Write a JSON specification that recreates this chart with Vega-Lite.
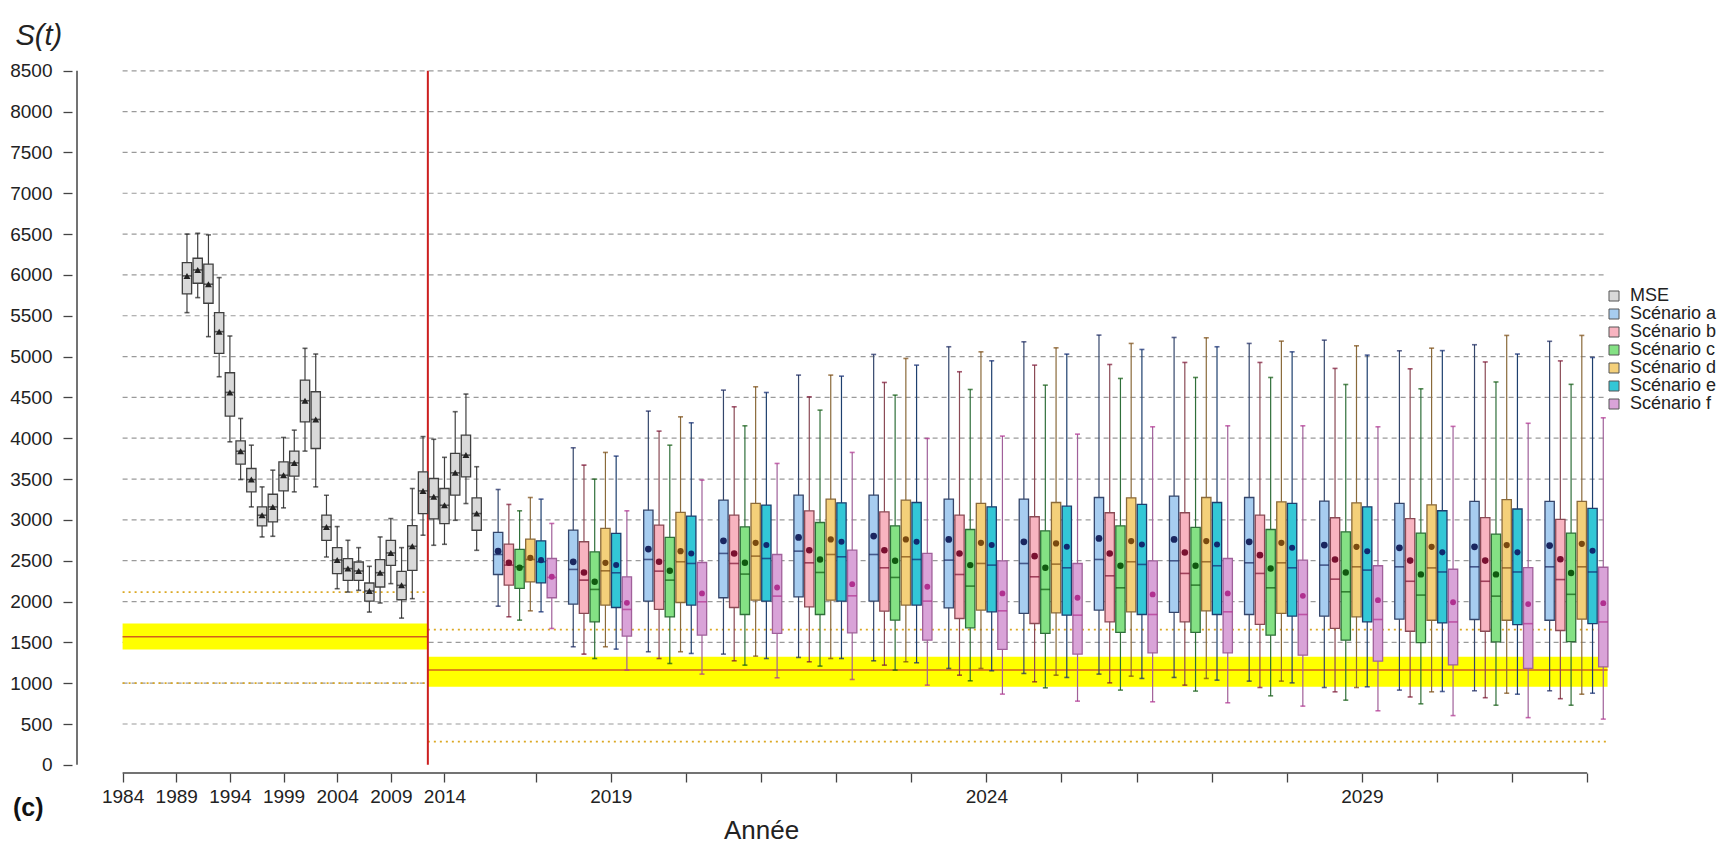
{
  "$schema": "https://vega.github.io/schema/vega-lite/v6.json",
  "width": 1547,
  "height": 713,
  "autosize": {"type": "none"},
  "padding": {"left": 72, "top": 60, "right": 115, "bottom": 72},
  "background": "white",
  "config": {
    "view": {"stroke": null},
    "axis": {
      "labelFont": "Liberation Sans Narrow, Liberation Sans",
      "labelFontSize": 19,
      "labelColor": "#222222",
      "tickColor": "#444444",
      "tickWidth": 1.3,
      "tickSize": 9,
      "domain": false,
      "grid": false,
      "titleColor": "#222222",
      "titleFontWeight": "normal"
    }
  },
  "title": {
    "text": "(c)",
    "orient": "bottom",
    "anchor": "start",
    "frame": "group",
    "dx": -59,
    "offset": -27,
    "baseline": "alphabetic",
    "font": "Liberation Sans",
    "fontSize": 25,
    "fontWeight": "bold",
    "color": "#111111"
  },
  "datasets": {
    "grid": [
      {"v": 500}, {"v": 1000}, {"v": 1500}, {"v": 2000}, {"v": 2500}, {"v": 3000},
      {"v": 3500}, {"v": 4000}, {"v": 4500}, {"v": 5000}, {"v": 5500}, {"v": 6000},
      {"v": 6500}, {"v": 7000}, {"v": 7500}, {"v": 8000}, {"v": 8500}
    ],
    "refs": [
      {"periode": "historique", "from": 0, "to": 28.45, "band_lo": 1413, "band_hi": 1732, "ref": 1568, "lim_hi": 2115, "lim_lo": 1000},
      {"periode": "projection", "from": 28.45, "to": 138.4, "band_lo": 955, "band_hi": 1323, "ref": 1160, "lim_hi": 1655, "lim_lo": 285}
    ],
    "box": [
      {"s": "MSE", "an": 1990, "k": 6, "lo": 5538, "q1": 5767, "md": 5988, "mn": 5988, "q3": 6151, "hi": 6500},
      {"s": "MSE", "an": 1991, "k": 7, "lo": 5722, "q1": 5898, "md": 6061, "mn": 6061, "q3": 6204, "hi": 6510},
      {"s": "MSE", "an": 1992, "k": 8, "lo": 5244, "q1": 5653, "md": 5886, "mn": 5886, "q3": 6131, "hi": 6490},
      {"s": "MSE", "an": 1993, "k": 9, "lo": 4753, "q1": 5039, "md": 5305, "mn": 5305, "q3": 5538, "hi": 5967},
      {"s": "MSE", "an": 1994, "k": 10, "lo": 3956, "q1": 4271, "md": 4561, "mn": 4561, "q3": 4802, "hi": 5252},
      {"s": "MSE", "an": 1995, "k": 11, "lo": 3494, "q1": 3682, "md": 3841, "mn": 3841, "q3": 3968, "hi": 4242},
      {"s": "MSE", "an": 1996, "k": 12, "lo": 3159, "q1": 3343, "md": 3494, "mn": 3494, "q3": 3629, "hi": 3915},
      {"s": "MSE", "an": 1997, "k": 13, "lo": 2791, "q1": 2926, "md": 3057, "mn": 3057, "q3": 3159, "hi": 3404},
      {"s": "MSE", "an": 1998, "k": 14, "lo": 2799, "q1": 2975, "md": 3159, "mn": 3159, "q3": 3314, "hi": 3609},
      {"s": "MSE", "an": 1999, "k": 15, "lo": 3147, "q1": 3355, "md": 3547, "mn": 3547, "q3": 3711, "hi": 4009},
      {"s": "MSE", "an": 2000, "k": 16, "lo": 3343, "q1": 3535, "md": 3698, "mn": 3698, "q3": 3842, "hi": 4099},
      {"s": "MSE", "an": 2001, "k": 17, "lo": 3842, "q1": 4201, "md": 4459, "mn": 4459, "q3": 4712, "hi": 5101},
      {"s": "MSE", "an": 2002, "k": 18, "lo": 3404, "q1": 3874, "md": 4230, "mn": 4230, "q3": 4569, "hi": 5031},
      {"s": "MSE", "an": 2003, "k": 19, "lo": 2546, "q1": 2750, "md": 2914, "mn": 2914, "q3": 3057, "hi": 3302},
      {"s": "MSE", "an": 2004, "k": 20, "lo": 2157, "q1": 2341, "md": 2509, "mn": 2509, "q3": 2660, "hi": 2918},
      {"s": "MSE", "an": 2005, "k": 21, "lo": 2116, "q1": 2260, "md": 2403, "mn": 2403, "q3": 2525, "hi": 2750},
      {"s": "MSE", "an": 2006, "k": 22, "lo": 2137, "q1": 2260, "md": 2374, "mn": 2374, "q3": 2484, "hi": 2660},
      {"s": "MSE", "an": 2007, "k": 23, "lo": 1871, "q1": 2006, "md": 2129, "mn": 2129, "q3": 2227, "hi": 2431},
      {"s": "MSE", "an": 2008, "k": 24, "lo": 1982, "q1": 2178, "md": 2353, "mn": 2353, "q3": 2513, "hi": 2791},
      {"s": "MSE", "an": 2009, "k": 25, "lo": 2219, "q1": 2443, "md": 2595, "mn": 2595, "q3": 2750, "hi": 3016},
      {"s": "MSE", "an": 2010, "k": 26, "lo": 1797, "q1": 2022, "md": 2198, "mn": 2198, "q3": 2370, "hi": 2660},
      {"s": "MSE", "an": 2011, "k": 27, "lo": 2035, "q1": 2382, "md": 2676, "mn": 2676, "q3": 2930, "hi": 3384},
      {"s": "MSE", "an": 2012, "k": 28, "lo": 2812, "q1": 3077, "md": 3355, "mn": 3355, "q3": 3589, "hi": 4020},
      {"s": "MSE", "an": 2013, "k": 29, "lo": 2689, "q1": 3012, "md": 3282, "mn": 3282, "q3": 3507, "hi": 3987},
      {"s": "MSE", "an": 2014, "k": 30, "lo": 2701, "q1": 2954, "md": 3179, "mn": 3179, "q3": 3384, "hi": 3766},
      {"s": "MSE", "an": 2015, "k": 31, "lo": 2995, "q1": 3302, "md": 3576, "mn": 3576, "q3": 3815, "hi": 4325},
      {"s": "MSE", "an": 2016, "k": 32, "lo": 3200, "q1": 3527, "md": 3793, "mn": 3793, "q3": 4038, "hi": 4541},
      {"s": "MSE", "an": 2017, "k": 33, "lo": 2627, "q1": 2873, "md": 3077, "mn": 3077, "q3": 3270, "hi": 3651},

      {"s": "Scénario a", "an": 2018, "k": 35, "lo": 1943, "q1": 2331, "md": 2576, "mn": 2617, "q3": 2846, "hi": 3372},
      {"s": "Scénario b", "an": 2018, "k": 36, "lo": 1813, "q1": 2201, "md": 2446, "mn": 2474, "q3": 2703, "hi": 3189},
      {"s": "Scénario c", "an": 2018, "k": 37, "lo": 1772, "q1": 2160, "md": 2425, "mn": 2413, "q3": 2638, "hi": 3111},
      {"s": "Scénario d", "an": 2018, "k": 38, "lo": 1886, "q1": 2241, "md": 2515, "mn": 2535, "q3": 2764, "hi": 3274},
      {"s": "Scénario e", "an": 2018, "k": 39, "lo": 1874, "q1": 2229, "md": 2487, "mn": 2507, "q3": 2744, "hi": 3254},
      {"s": "Scénario f", "an": 2018, "k": 40, "lo": 1670, "q1": 2046, "md": 2295, "mn": 2303, "q3": 2527, "hi": 2956},

      {"s": "Scénario a", "an": 2019, "k": 42, "lo": 1446, "q1": 1968, "md": 2393, "mn": 2487, "q3": 2874, "hi": 3883},
      {"s": "Scénario b", "an": 2019, "k": 43, "lo": 1356, "q1": 1854, "md": 2262, "mn": 2356, "q3": 2732, "hi": 3670},
      {"s": "Scénario c", "an": 2019, "k": 44, "lo": 1302, "q1": 1752, "md": 2148, "mn": 2242, "q3": 2609, "hi": 3499},
      {"s": "Scénario d", "an": 2019, "k": 45, "lo": 1446, "q1": 1956, "md": 2376, "mn": 2474, "q3": 2895, "hi": 3826},
      {"s": "Scénario e", "an": 2019, "k": 46, "lo": 1417, "q1": 1927, "md": 2352, "mn": 2446, "q3": 2834, "hi": 3781},
      {"s": "Scénario f", "an": 2019, "k": 47, "lo": 1160, "q1": 1576, "md": 1903, "mn": 1984, "q3": 2303, "hi": 3111},

      {"s": "Scénario a", "an": 2020, "k": 49, "lo": 1385, "q1": 2005, "md": 2515, "mn": 2642, "q3": 3119, "hi": 4332},
      {"s": "Scénario b", "an": 2020, "k": 50, "lo": 1302, "q1": 1903, "md": 2372, "mn": 2487, "q3": 2936, "hi": 4087},
      {"s": "Scénario c", "an": 2020, "k": 51, "lo": 1241, "q1": 1813, "md": 2262, "mn": 2376, "q3": 2785, "hi": 3915},
      {"s": "Scénario d", "an": 2020, "k": 52, "lo": 1385, "q1": 1988, "md": 2487, "mn": 2617, "q3": 3091, "hi": 4262},
      {"s": "Scénario e", "an": 2020, "k": 53, "lo": 1364, "q1": 1956, "md": 2466, "mn": 2589, "q3": 3046, "hi": 4189},
      {"s": "Scénario f", "an": 2020, "k": 54, "lo": 1111, "q1": 1588, "md": 1997, "mn": 2099, "q3": 2478, "hi": 3487},

      {"s": "Scénario a", "an": 2021, "k": 56, "lo": 1356, "q1": 2046, "md": 2589, "mn": 2744, "q3": 3242, "hi": 4589},
      {"s": "Scénario b", "an": 2021, "k": 57, "lo": 1274, "q1": 1927, "md": 2466, "mn": 2589, "q3": 3058, "hi": 4385},
      {"s": "Scénario c", "an": 2021, "k": 58, "lo": 1221, "q1": 1841, "md": 2336, "mn": 2474, "q3": 2915, "hi": 4152},
      {"s": "Scénario d", "an": 2021, "k": 59, "lo": 1331, "q1": 2017, "md": 2556, "mn": 2719, "q3": 3201, "hi": 4630},
      {"s": "Scénario e", "an": 2021, "k": 60, "lo": 1302, "q1": 2005, "md": 2527, "mn": 2691, "q3": 3181, "hi": 4560},
      {"s": "Scénario f", "an": 2021, "k": 61, "lo": 1066, "q1": 1609, "md": 2066, "mn": 2172, "q3": 2576, "hi": 3691},

      {"s": "Scénario a", "an": 2022, "k": 63, "lo": 1315, "q1": 2058, "md": 2617, "mn": 2785, "q3": 3303, "hi": 4773},
      {"s": "Scénario b", "an": 2022, "k": 64, "lo": 1262, "q1": 1935, "md": 2474, "mn": 2629, "q3": 3111, "hi": 4507},
      {"s": "Scénario c", "an": 2022, "k": 65, "lo": 1209, "q1": 1841, "md": 2356, "mn": 2515, "q3": 2968, "hi": 4344},
      {"s": "Scénario d", "an": 2022, "k": 66, "lo": 1302, "q1": 2017, "md": 2576, "mn": 2760, "q3": 3254, "hi": 4773},
      {"s": "Scénario e", "an": 2022, "k": 67, "lo": 1302, "q1": 2005, "md": 2548, "mn": 2731, "q3": 3209, "hi": 4760},
      {"s": "Scénario f", "an": 2022, "k": 68, "lo": 1045, "q1": 1617, "md": 2070, "mn": 2213, "q3": 2629, "hi": 3826},

      {"s": "Scénario a", "an": 2023, "k": 70, "lo": 1274, "q1": 2005, "md": 2576, "mn": 2801, "q3": 3303, "hi": 5026},
      {"s": "Scénario b", "an": 2023, "k": 71, "lo": 1221, "q1": 1882, "md": 2413, "mn": 2629, "q3": 3099, "hi": 4683},
      {"s": "Scénario c", "an": 2023, "k": 72, "lo": 1160, "q1": 1772, "md": 2295, "mn": 2499, "q3": 2927, "hi": 4528},
      {"s": "Scénario d", "an": 2023, "k": 73, "lo": 1262, "q1": 1956, "md": 2548, "mn": 2760, "q3": 3242, "hi": 4977},
      {"s": "Scénario e", "an": 2023, "k": 74, "lo": 1250, "q1": 1956, "md": 2515, "mn": 2731, "q3": 3213, "hi": 4895},
      {"s": "Scénario f", "an": 2023, "k": 75, "lo": 976, "q1": 1527, "md": 2005, "mn": 2181, "q3": 2589, "hi": 3997},

      {"s": "Scénario a", "an": 2024, "k": 77, "lo": 1180, "q1": 1923, "md": 2507, "mn": 2760, "q3": 3254, "hi": 5120},
      {"s": "Scénario b", "an": 2024, "k": 78, "lo": 1098, "q1": 1792, "md": 2331, "mn": 2589, "q3": 3058, "hi": 4814},
      {"s": "Scénario c", "an": 2024, "k": 79, "lo": 1029, "q1": 1678, "md": 2189, "mn": 2446, "q3": 2882, "hi": 4597},
      {"s": "Scénario d", "an": 2024, "k": 80, "lo": 1180, "q1": 1895, "md": 2466, "mn": 2719, "q3": 3201, "hi": 5058},
      {"s": "Scénario e", "an": 2024, "k": 81, "lo": 1152, "q1": 1874, "md": 2446, "mn": 2691, "q3": 3160, "hi": 4948},
      {"s": "Scénario f", "an": 2024, "k": 82, "lo": 866, "q1": 1413, "md": 1886, "mn": 2099, "q3": 2499, "hi": 4026},

      {"s": "Scénario a", "an": 2025, "k": 84, "lo": 1119, "q1": 1854, "md": 2466, "mn": 2731, "q3": 3254, "hi": 5181},
      {"s": "Scénario b", "an": 2025, "k": 85, "lo": 1017, "q1": 1731, "md": 2303, "mn": 2556, "q3": 3038, "hi": 4895},
      {"s": "Scénario c", "an": 2025, "k": 86, "lo": 943, "q1": 1609, "md": 2148, "mn": 2413, "q3": 2866, "hi": 4650},
      {"s": "Scénario d", "an": 2025, "k": 87, "lo": 1098, "q1": 1862, "md": 2458, "mn": 2711, "q3": 3213, "hi": 5107},
      {"s": "Scénario e", "an": 2025, "k": 88, "lo": 1070, "q1": 1833, "md": 2413, "mn": 2670, "q3": 3168, "hi": 5030},
      {"s": "Scénario f", "an": 2025, "k": 89, "lo": 780, "q1": 1356, "md": 1833, "mn": 2046, "q3": 2466, "hi": 4050},

      {"s": "Scénario a", "an": 2026, "k": 91, "lo": 1111, "q1": 1895, "md": 2515, "mn": 2772, "q3": 3274, "hi": 5263},
      {"s": "Scénario b", "an": 2026, "k": 92, "lo": 1004, "q1": 1752, "md": 2315, "mn": 2589, "q3": 3087, "hi": 4903},
      {"s": "Scénario c", "an": 2026, "k": 93, "lo": 915, "q1": 1621, "md": 2168, "mn": 2438, "q3": 2927, "hi": 4732},
      {"s": "Scénario d", "an": 2026, "k": 94, "lo": 1086, "q1": 1874, "md": 2487, "mn": 2740, "q3": 3270, "hi": 5161},
      {"s": "Scénario e", "an": 2026, "k": 95, "lo": 1058, "q1": 1841, "md": 2454, "mn": 2699, "q3": 3189, "hi": 5087},
      {"s": "Scénario f", "an": 2026, "k": 96, "lo": 772, "q1": 1372, "md": 1841, "mn": 2087, "q3": 2499, "hi": 4140},

      {"s": "Scénario a", "an": 2027, "k": 98, "lo": 1070, "q1": 1866, "md": 2499, "mn": 2760, "q3": 3291, "hi": 5234},
      {"s": "Scénario b", "an": 2027, "k": 99, "lo": 976, "q1": 1752, "md": 2344, "mn": 2601, "q3": 3087, "hi": 4928},
      {"s": "Scénario c", "an": 2027, "k": 100, "lo": 903, "q1": 1621, "md": 2201, "mn": 2438, "q3": 2907, "hi": 4744},
      {"s": "Scénario d", "an": 2027, "k": 101, "lo": 1058, "q1": 1886, "md": 2487, "mn": 2740, "q3": 3274, "hi": 5230},
      {"s": "Scénario e", "an": 2027, "k": 102, "lo": 1037, "q1": 1841, "md": 2438, "mn": 2699, "q3": 3213, "hi": 5120},
      {"s": "Scénario f", "an": 2027, "k": 103, "lo": 760, "q1": 1372, "md": 1874, "mn": 2099, "q3": 2527, "hi": 4152},

      {"s": "Scénario a", "an": 2028, "k": 105, "lo": 1025, "q1": 1841, "md": 2474, "mn": 2731, "q3": 3274, "hi": 5161},
      {"s": "Scénario b", "an": 2028, "k": 106, "lo": 947, "q1": 1719, "md": 2344, "mn": 2568, "q3": 3058, "hi": 4928},
      {"s": "Scénario c", "an": 2028, "k": 107, "lo": 845, "q1": 1588, "md": 2168, "mn": 2405, "q3": 2882, "hi": 4744},
      {"s": "Scénario d", "an": 2028, "k": 108, "lo": 1025, "q1": 1854, "md": 2474, "mn": 2719, "q3": 3221, "hi": 5189},
      {"s": "Scénario e", "an": 2028, "k": 109, "lo": 1004, "q1": 1821, "md": 2413, "mn": 2658, "q3": 3201, "hi": 5058},
      {"s": "Scénario f", "an": 2028, "k": 110, "lo": 719, "q1": 1343, "md": 1841, "mn": 2070, "q3": 2507, "hi": 4152},

      {"s": "Scénario a", "an": 2029, "k": 112, "lo": 947, "q1": 1821, "md": 2446, "mn": 2691, "q3": 3230, "hi": 5201},
      {"s": "Scénario b", "an": 2029, "k": 113, "lo": 894, "q1": 1670, "md": 2274, "mn": 2515, "q3": 3026, "hi": 4855},
      {"s": "Scénario c", "an": 2029, "k": 114, "lo": 792, "q1": 1527, "md": 2119, "mn": 2356, "q3": 2854, "hi": 4658},
      {"s": "Scénario d", "an": 2029, "k": 115, "lo": 947, "q1": 1813, "md": 2425, "mn": 2670, "q3": 3209, "hi": 5132},
      {"s": "Scénario e", "an": 2029, "k": 116, "lo": 956, "q1": 1752, "md": 2385, "mn": 2617, "q3": 3160, "hi": 5018},
      {"s": "Scénario f", "an": 2029, "k": 117, "lo": 662, "q1": 1270, "md": 1780, "mn": 2017, "q3": 2438, "hi": 4140},

      {"s": "Scénario a", "an": 2030, "k": 119, "lo": 915, "q1": 1784, "md": 2425, "mn": 2658, "q3": 3201, "hi": 5071},
      {"s": "Scénario b", "an": 2030, "k": 120, "lo": 831, "q1": 1636, "md": 2248, "mn": 2501, "q3": 3015, "hi": 4850},
      {"s": "Scénario c", "an": 2030, "k": 121, "lo": 747, "q1": 1497, "md": 2079, "mn": 2332, "q3": 2838, "hi": 4605},
      {"s": "Scénario d", "an": 2030, "k": 122, "lo": 894, "q1": 1771, "md": 2412, "mn": 2670, "q3": 3184, "hi": 5103},
      {"s": "Scénario e", "an": 2030, "k": 123, "lo": 898, "q1": 1738, "md": 2362, "mn": 2602, "q3": 3112, "hi": 5073},
      {"s": "Scénario f", "an": 2030, "k": 124, "lo": 603, "q1": 1223, "md": 1750, "mn": 1991, "q3": 2395, "hi": 4145},

      {"s": "Scénario a", "an": 2031, "k": 126, "lo": 907, "q1": 1780, "md": 2425, "mn": 2670, "q3": 3226, "hi": 5145},
      {"s": "Scénario b", "an": 2031, "k": 127, "lo": 822, "q1": 1636, "md": 2248, "mn": 2501, "q3": 3028, "hi": 4934},
      {"s": "Scénario c", "an": 2031, "k": 128, "lo": 730, "q1": 1506, "md": 2066, "mn": 2332, "q3": 2826, "hi": 4689},
      {"s": "Scénario d", "an": 2031, "k": 129, "lo": 877, "q1": 1771, "md": 2412, "mn": 2691, "q3": 3247, "hi": 5259},
      {"s": "Scénario e", "an": 2031, "k": 130, "lo": 865, "q1": 1716, "md": 2362, "mn": 2602, "q3": 3133, "hi": 5031},
      {"s": "Scénario f", "an": 2031, "k": 131, "lo": 578, "q1": 1181, "md": 1729, "mn": 1969, "q3": 2416, "hi": 4183},

      {"s": "Scénario a", "an": 2032, "k": 133, "lo": 907, "q1": 1771, "md": 2425, "mn": 2686, "q3": 3226, "hi": 5187},
      {"s": "Scénario b", "an": 2032, "k": 134, "lo": 810, "q1": 1645, "md": 2269, "mn": 2518, "q3": 3007, "hi": 4947},
      {"s": "Scénario c", "an": 2032, "k": 135, "lo": 730, "q1": 1510, "md": 2088, "mn": 2349, "q3": 2838, "hi": 4660},
      {"s": "Scénario d", "an": 2032, "k": 136, "lo": 865, "q1": 1784, "md": 2425, "mn": 2707, "q3": 3226, "hi": 5259},
      {"s": "Scénario e", "an": 2032, "k": 137, "lo": 877, "q1": 1729, "md": 2362, "mn": 2623, "q3": 3142, "hi": 4989},
      {"s": "Scénario f", "an": 2032, "k": 138, "lo": 560, "q1": 1200, "md": 1750, "mn": 1980, "q3": 2420, "hi": 4250}
    ]
  },
  "layer": [
    {
      "data": {"name": "grid"},
      "mark": {"type": "rule", "color": "#9a9a9a", "strokeWidth": 1.2, "strokeDash": [5, 4]},
      "encoding": {
        "x": {"datum": 0, "type": "quantitative", "scale": {"domain": [-4.25, 139], "nice": false, "zero": false}},
        "x2": {"datum": 138.4},
        "y": {"field": "v", "type": "quantitative", "scale": {"domain": [-100, 8632], "nice": false, "zero": false}}
      }
    },
    {
      "data": {"name": "refs"},
      "mark": {"type": "rect", "color": "#ffff00"},
      "encoding": {
        "x": {"field": "from", "type": "quantitative", "scale": {"domain": [-4.25, 139], "nice": false, "zero": false}},
        "x2": {"field": "to"},
        "y": {"field": "band_lo", "type": "quantitative", "scale": {"domain": [-100, 8632], "nice": false, "zero": false}},
        "y2": {"field": "band_hi"}
      }
    },
    {
      "data": {"name": "refs"},
      "mark": {"type": "rule", "color": "#d45f1c", "strokeWidth": 1.5},
      "encoding": {
        "x": {"field": "from", "type": "quantitative", "scale": {"domain": [-4.25, 139], "nice": false, "zero": false}},
        "x2": {"field": "to"},
        "y": {"field": "ref", "type": "quantitative", "scale": {"domain": [-100, 8632], "nice": false, "zero": false}}
      }
    },
    {
      "data": {"name": "refs"},
      "mark": {"type": "rule", "color": "#dba824", "strokeWidth": 1.8, "strokeDash": [2, 4]},
      "encoding": {
        "x": {"field": "from", "type": "quantitative", "scale": {"domain": [-4.25, 139], "nice": false, "zero": false}},
        "x2": {"field": "to"},
        "y": {"field": "lim_hi", "type": "quantitative", "scale": {"domain": [-100, 8632], "nice": false, "zero": false}}
      }
    },
    {
      "data": {"name": "refs"},
      "mark": {"type": "rule", "color": "#dba824", "strokeWidth": 1.8, "strokeDash": [2, 4]},
      "encoding": {
        "x": {"field": "from", "type": "quantitative", "scale": {"domain": [-4.25, 139], "nice": false, "zero": false}},
        "x2": {"field": "to"},
        "y": {"field": "lim_lo", "type": "quantitative", "scale": {"domain": [-100, 8632], "nice": false, "zero": false}}
      }
    },
    {
      "data": {"values": [{"separation": "2012/2013"}]},
      "mark": {"type": "rule", "color": "#cc1f1f", "strokeWidth": 2},
      "encoding": {
        "x": {"datum": 28.45, "type": "quantitative", "scale": {"domain": [-4.25, 139], "nice": false, "zero": false}},
        "y": {"datum": 0, "type": "quantitative", "scale": {"domain": [-100, 8632], "nice": false, "zero": false}},
        "y2": {"datum": 8500}
      }
    },
    {
      "data": {"values": [{"axe": "x"}]},
      "mark": {"type": "rule", "color": "#444444", "strokeWidth": 1.5},
      "encoding": {
        "x": {"datum": 0, "type": "quantitative", "scale": {"domain": [-4.25, 139], "nice": false, "zero": false}},
        "x2": {"datum": 136.5},
        "y": {"datum": -100, "type": "quantitative", "scale": {"domain": [-100, 8632], "nice": false, "zero": false}}
      }
    },
    {
      "data": {"values": [{"axe": "y"}]},
      "mark": {"type": "rule", "color": "#444444", "strokeWidth": 1.5},
      "encoding": {
        "x": {"datum": -4.25, "type": "quantitative", "scale": {"domain": [-4.25, 139], "nice": false, "zero": false}},
        "y": {"datum": 0, "type": "quantitative", "scale": {"domain": [-100, 8632], "nice": false, "zero": false}},
        "y2": {"datum": 8500}
      }
    },
    {
      "data": {"name": "box"},
      "mark": {"type": "rule", "strokeWidth": 1.2},
      "encoding": {
        "x": {
          "field": "k", "type": "quantitative",
          "scale": {"domain": [-4.25, 139], "nice": false, "zero": false},
          "axis": {
            "values": [0, 5, 10, 15, 20, 25, 30, 38.5, 45.5, 52.5, 59.5, 66.5, 73.5, 80.5, 87.5, 94.5, 101.5, 108.5, 115.5, 122.5, 129.5, 136.5],
            "labelExpr": "datum.value <= 30 ? '' + (1984 + datum.value) : (datum.value == 45.5 ? '2019' : (datum.value == 80.5 ? '2024' : (datum.value == 115.5 ? '2029' : '')))",
            "labelPadding": 5,
            "labelOverlap": false,
            "labelFlush": false,
            "title": "Année",
            "titleFont": "Liberation Sans Narrow, Liberation Sans",
            "titleFontSize": 26,
            "titleX": 689,
            "titleY": 65,
            "titleBaseline": "alphabetic"
          }
        },
        "y": {
          "field": "lo", "type": "quantitative",
          "scale": {"domain": [-100, 8632], "nice": false, "zero": false},
          "axis": {
            "values": [0, 500, 1000, 1500, 2000, 2500, 3000, 3500, 4000, 4500, 5000, 5500, 6000, 6500, 7000, 7500, 8000, 8500],
            "format": "d",
            "labelPadding": 11,
            "title": "S(t)",
            "titleFont": "Liberation Sans",
            "titleFontStyle": "italic",
            "titleFontSize": 29,
            "titleAngle": 0,
            "titleAlign": "left",
            "titleBaseline": "alphabetic",
            "titleX": -57,
            "titleY": -16
          }
        },
        "y2": {"field": "hi"},
        "stroke": {
          "field": "s", "type": "nominal",
          "scale": {"range": ["#404040", "#34466b", "#8a4a55", "#2f6f3a", "#8a6a3a", "#1d3f6e", "#a0609a"]},
          "legend": null
        }
      }
    },
    {
      "data": {"name": "box"},
      "mark": {"type": "tick", "orient": "horizontal", "size": 5, "thickness": 1.6},
      "encoding": {
        "x": {"field": "k", "type": "quantitative", "scale": {"domain": [-4.25, 139], "nice": false, "zero": false}},
        "y": {"field": "hi", "type": "quantitative", "scale": {"domain": [-100, 8632], "nice": false, "zero": false}},
        "color": {
          "field": "s", "type": "nominal",
          "scale": {"range": ["#222222", "#1a2660", "#7a1030", "#105a10", "#7a4a10", "#102a70", "#b03090"]},
          "legend": null
        }
      }
    },
    {
      "data": {"name": "box"},
      "mark": {"type": "tick", "orient": "horizontal", "size": 5, "thickness": 1.6},
      "encoding": {
        "x": {"field": "k", "type": "quantitative", "scale": {"domain": [-4.25, 139], "nice": false, "zero": false}},
        "y": {"field": "lo", "type": "quantitative", "scale": {"domain": [-100, 8632], "nice": false, "zero": false}},
        "color": {
          "field": "s", "type": "nominal",
          "scale": {"range": ["#222222", "#1a2660", "#7a1030", "#105a10", "#7a4a10", "#102a70", "#b03090"]},
          "legend": null
        }
      }
    },
    {
      "data": {"name": "box"},
      "mark": {"type": "bar", "orient": "vertical", "width": 9.3, "strokeWidth": 1.3},
      "encoding": {
        "x": {"field": "k", "type": "quantitative", "scale": {"domain": [-4.25, 139], "nice": false, "zero": false}},
        "y": {"field": "q1", "type": "quantitative", "scale": {"domain": [-100, 8632], "nice": false, "zero": false}},
        "y2": {"field": "q3"},
        "fill": {
          "field": "s", "type": "nominal",
          "scale": {"domain": ["MSE", "Scénario a", "Scénario b", "Scénario c", "Scénario d", "Scénario e", "Scénario f"],
                    "range": ["#d9d9d9", "#a7cdf0", "#f8b4c0", "#84e184", "#f4d07a", "#33c7d6", "#d9a3d8"]},
          "legend": {
            "title": null,
            "orient": "none",
            "legendX": 1533,
            "legendY": 227,
            "padding": 0,
            "symbolType": "square",
            "symbolSize": 100,
            "symbolStrokeColor": "#555555",
            "symbolStrokeWidth": 1,
            "labelFont": "Liberation Sans Narrow, Liberation Sans",
            "labelFontSize": 18,
            "labelColor": "#222222",
            "labelOffset": 7,
            "rowPadding": 0
          }
        },
        "stroke": {
          "field": "s", "type": "nominal",
          "scale": {"range": ["#404040", "#34466b", "#8a4a55", "#2f6f3a", "#8a6a3a", "#1d3f6e", "#a0609a"]},
          "legend": null
        }
      }
    },
    {
      "data": {"name": "box"},
      "mark": {"type": "tick", "orient": "horizontal", "size": 9.3, "thickness": 1.6},
      "encoding": {
        "x": {"field": "k", "type": "quantitative", "scale": {"domain": [-4.25, 139], "nice": false, "zero": false}},
        "y": {"field": "md", "type": "quantitative", "scale": {"domain": [-100, 8632], "nice": false, "zero": false}},
        "color": {
          "field": "s", "type": "nominal",
          "scale": {"range": ["#222222", "#1a2660", "#7a1030", "#105a10", "#7a4a10", "#102a70", "#b03090"]},
          "legend": null
        }
      }
    },
    {
      "data": {"name": "box"},
      "mark": {"type": "point", "filled": true, "opacity": 1},
      "encoding": {
        "x": {"field": "k", "type": "quantitative", "scale": {"domain": [-4.25, 139], "nice": false, "zero": false}},
        "y": {"field": "mn", "type": "quantitative", "scale": {"domain": [-100, 8632], "nice": false, "zero": false}},
        "size": {
          "field": "s", "type": "nominal",
          "scale": {"range": [48, 34, 34, 34, 34, 34, 34]},
          "legend": null
        },
        "color": {
          "field": "s", "type": "nominal",
          "scale": {"range": ["#000000", "#00157a", "#8b0026", "#006400", "#8b4a00", "#002a80", "#d0208f"]},
          "legend": null
        },
        "shape": {
          "field": "s", "type": "nominal",
          "scale": {"range": ["triangle-up", "circle", "circle", "circle", "circle", "circle", "circle"]},
          "legend": null
        }
      }
    }
  ]
}
